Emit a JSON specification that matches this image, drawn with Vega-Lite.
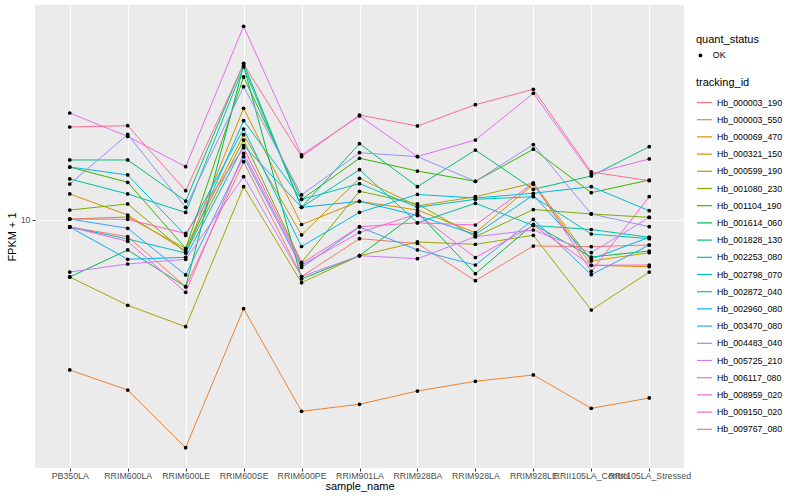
{
"$schema": "https://vega.github.io/schema/vega-lite/v6.json",
"width": 649, "height": 463,
"autosize": "none",
"padding": {"left": 35, "top": 5, "right": 116, "bottom": 32},
"background": "white",
"config": {
  "view": {"fill": "#EBEBEB", "stroke": null},
  "font": "Liberation Sans",
  "axis": {"domain": false, "grid": true, "gridColor": "white", "gridWidth": 1.1, "tickColor": "#333333", "tickSize": 3, "labelColor": "#4D4D4D", "labelFontSize": 8.8, "titleFontSize": 11, "titleColor": "black", "titleFontWeight": "normal", "labelPadding": 2},
  "legend": {"titleFontSize": 11, "titleFontWeight": "normal", "titleColor": "black", "labelFontSize": 8.8, "labelColor": "black", "orient": "none"}
},
"data": {"values": [
{"t":"Hb_000003_190","s":"PB350LA","v":9.376,"q":"OK"},{"t":"Hb_000003_190","s":"RRIM600LA","v":8.575,"q":"OK"},{"t":"Hb_000003_190","s":"RRIM600LE","v":5.41,"q":"OK"},{"t":"Hb_000003_190","s":"RRIM600SE","v":17.11,"q":"OK"},{"t":"Hb_000003_190","s":"RRIM600PE","v":5.943,"q":"OK"},{"t":"Hb_000003_190","s":"RRIM901LA","v":8.419,"q":"OK"},{"t":"Hb_000003_190","s":"RRIM928BA","v":8.054,"q":"OK"},{"t":"Hb_000003_190","s":"RRIM928LA","v":5.718,"q":"OK"},{"t":"Hb_000003_190","s":"RRIM928LE","v":7.87,"q":"OK"},{"t":"Hb_000003_190","s":"RRII105LA_Control","v":7.82,"q":"OK"},{"t":"Hb_000003_190","s":"RRII105LA_Stressed","v":7.943,"q":"OK"},
{"t":"Hb_000003_550","s":"PB350LA","v":2.512,"q":"OK"},{"t":"Hb_000003_550","s":"RRIM600LA","v":2.089,"q":"OK"},{"t":"Hb_000003_550","s":"RRIM600LE","v":1.228,"q":"OK"},{"t":"Hb_000003_550","s":"RRIM600SE","v":4.417,"q":"OK"},{"t":"Hb_000003_550","s":"RRIM600PE","v":1.717,"q":"OK"},{"t":"Hb_000003_550","s":"RRIM901LA","v":1.832,"q":"OK"},{"t":"Hb_000003_550","s":"RRIM928BA","v":2.07,"q":"OK"},{"t":"Hb_000003_550","s":"RRIM928LA","v":2.264,"q":"OK"},{"t":"Hb_000003_550","s":"RRIM928LE","v":2.399,"q":"OK"},{"t":"Hb_000003_550","s":"RRII105LA_Control","v":1.765,"q":"OK"},{"t":"Hb_000003_550","s":"RRII105LA_Stressed","v":1.941,"q":"OK"},
{"t":"Hb_000069_470","s":"PB350LA","v":12.71,"q":"OK"},{"t":"Hb_000069_470","s":"RRIM600LA","v":10.47,"q":"OK"},{"t":"Hb_000069_470","s":"RRIM600LE","v":7.516,"q":"OK"},{"t":"Hb_000069_470","s":"RRIM600SE","v":27.98,"q":"OK"},{"t":"Hb_000069_470","s":"RRIM600PE","v":9.594,"q":"OK"},{"t":"Hb_000069_470","s":"RRIM901LA","v":11.88,"q":"OK"},{"t":"Hb_000069_470","s":"RRIM928BA","v":10.96,"q":"OK"},{"t":"Hb_000069_470","s":"RRIM928LA","v":8.897,"q":"OK"},{"t":"Hb_000069_470","s":"RRIM928LE","v":13.89,"q":"OK"},{"t":"Hb_000069_470","s":"RRII105LA_Control","v":6.589,"q":"OK"},{"t":"Hb_000069_470","s":"RRII105LA_Stressed","v":6.504,"q":"OK"},
{"t":"Hb_000321_150","s":"PB350LA","v":10.09,"q":"OK"},{"t":"Hb_000321_150","s":"RRIM600LA","v":10.28,"q":"OK"},{"t":"Hb_000321_150","s":"RRIM600LE","v":7.691,"q":"OK"},{"t":"Hb_000321_150","s":"RRIM600SE","v":21.94,"q":"OK"},{"t":"Hb_000321_150","s":"RRIM600PE","v":8.71,"q":"OK"},{"t":"Hb_000321_150","s":"RRIM901LA","v":14.68,"q":"OK"},{"t":"Hb_000321_150","s":"RRIM928BA","v":11.38,"q":"OK"},{"t":"Hb_000321_150","s":"RRIM928LA","v":12.39,"q":"OK"},{"t":"Hb_000321_150","s":"RRIM928LE","v":14.06,"q":"OK"},{"t":"Hb_000321_150","s":"RRII105LA_Control","v":6.855,"q":"OK"},{"t":"Hb_000321_150","s":"RRII105LA_Stressed","v":7.399,"q":"OK"},
{"t":"Hb_000599_190","s":"PB350LA","v":5.916,"q":"OK"},{"t":"Hb_000599_190","s":"RRIM600LA","v":4.558,"q":"OK"},{"t":"Hb_000599_190","s":"RRIM600LE","v":3.742,"q":"OK"},{"t":"Hb_000599_190","s":"RRIM600SE","v":13.59,"q":"OK"},{"t":"Hb_000599_190","s":"RRIM600PE","v":5.614,"q":"OK"},{"t":"Hb_000599_190","s":"RRIM901LA","v":7.198,"q":"OK"},{"t":"Hb_000599_190","s":"RRIM928BA","v":8.166,"q":"OK"},{"t":"Hb_000599_190","s":"RRIM928LA","v":7.994,"q":"OK"},{"t":"Hb_000599_190","s":"RRIM928LE","v":8.686,"q":"OK"},{"t":"Hb_000599_190","s":"RRII105LA_Control","v":4.365,"q":"OK"},{"t":"Hb_000599_190","s":"RRII105LA_Stressed","v":6.194,"q":"OK"},
{"t":"Hb_001080_230","s":"PB350LA","v":10.96,"q":"OK"},{"t":"Hb_001080_230","s":"RRIM600LA","v":11.59,"q":"OK"},{"t":"Hb_001080_230","s":"RRIM600LE","v":7.399,"q":"OK"},{"t":"Hb_001080_230","s":"RRIM600SE","v":20.89,"q":"OK"},{"t":"Hb_001080_230","s":"RRIM600PE","v":6.761,"q":"OK"},{"t":"Hb_001080_230","s":"RRIM901LA","v":13.03,"q":"OK"},{"t":"Hb_001080_230","s":"RRIM928BA","v":11.59,"q":"OK"},{"t":"Hb_001080_230","s":"RRIM928LA","v":8.575,"q":"OK"},{"t":"Hb_001080_230","s":"RRIM928LE","v":11.01,"q":"OK"},{"t":"Hb_001080_230","s":"RRII105LA_Control","v":10.57,"q":"OK"},{"t":"Hb_001080_230","s":"RRII105LA_Stressed","v":10.25,"q":"OK"},
{"t":"Hb_001104_190","s":"PB350LA","v":16.29,"q":"OK"},{"t":"Hb_001104_190","s":"RRIM600LA","v":14.15,"q":"OK"},{"t":"Hb_001104_190","s":"RRIM600LE","v":7.691,"q":"OK"},{"t":"Hb_001104_190","s":"RRIM600SE","v":37.33,"q":"OK"},{"t":"Hb_001104_190","s":"RRIM600PE","v":12.08,"q":"OK"},{"t":"Hb_001104_190","s":"RRIM901LA","v":17.66,"q":"OK"},{"t":"Hb_001104_190","s":"RRIM928BA","v":15.7,"q":"OK"},{"t":"Hb_001104_190","s":"RRIM928LA","v":14.28,"q":"OK"},{"t":"Hb_001104_190","s":"RRIM928LE","v":19.19,"q":"OK"},{"t":"Hb_001104_190","s":"RRII105LA_Control","v":12.86,"q":"OK"},{"t":"Hb_001104_190","s":"RRII105LA_Stressed","v":14.45,"q":"OK"},
{"t":"Hb_001614_060","s":"PB350LA","v":5.916,"q":"OK"},{"t":"Hb_001614_060","s":"RRIM600LA","v":7.586,"q":"OK"},{"t":"Hb_001614_060","s":"RRIM600LE","v":5.41,"q":"OK"},{"t":"Hb_001614_060","s":"RRIM600SE","v":41.42,"q":"OK"},{"t":"Hb_001614_060","s":"RRIM600PE","v":5.808,"q":"OK"},{"t":"Hb_001614_060","s":"RRIM901LA","v":7.198,"q":"OK"},{"t":"Hb_001614_060","s":"RRIM928BA","v":10.73,"q":"OK"},{"t":"Hb_001614_060","s":"RRIM928LA","v":6.098,"q":"OK"},{"t":"Hb_001614_060","s":"RRIM928LE","v":9.612,"q":"OK"},{"t":"Hb_001614_060","s":"RRII105LA_Control","v":7.112,"q":"OK"},{"t":"Hb_001614_060","s":"RRII105LA_Stressed","v":7.516,"q":"OK"},
{"t":"Hb_001828_130","s":"PB350LA","v":17.38,"q":"OK"},{"t":"Hb_001828_130","s":"RRIM600LA","v":17.38,"q":"OK"},{"t":"Hb_001828_130","s":"RRIM600LE","v":11.91,"q":"OK"},{"t":"Hb_001828_130","s":"RRIM600SE","v":42.34,"q":"OK"},{"t":"Hb_001828_130","s":"RRIM600PE","v":11.24,"q":"OK"},{"t":"Hb_001828_130","s":"RRIM901LA","v":20.2,"q":"OK"},{"t":"Hb_001828_130","s":"RRIM928BA","v":13.59,"q":"OK"},{"t":"Hb_001828_130","s":"RRIM928LA","v":19.05,"q":"OK"},{"t":"Hb_001828_130","s":"RRIM928LE","v":13.27,"q":"OK"},{"t":"Hb_001828_130","s":"RRII105LA_Control","v":15.0,"q":"OK"},{"t":"Hb_001828_130","s":"RRII105LA_Stressed","v":19.64,"q":"OK"},
{"t":"Hb_002253_080","s":"PB350LA","v":14.59,"q":"OK"},{"t":"Hb_002253_080","s":"RRIM600LA","v":12.71,"q":"OK"},{"t":"Hb_002253_080","s":"RRIM600LE","v":10.72,"q":"OK"},{"t":"Hb_002253_080","s":"RRIM600SE","v":40.93,"q":"OK"},{"t":"Hb_002253_080","s":"RRIM600PE","v":11.24,"q":"OK"},{"t":"Hb_002253_080","s":"RRIM901LA","v":15.89,"q":"OK"},{"t":"Hb_002253_080","s":"RRIM928BA","v":9.745,"q":"OK"},{"t":"Hb_002253_080","s":"RRIM928LA","v":11.66,"q":"OK"},{"t":"Hb_002253_080","s":"RRIM928LE","v":9.506,"q":"OK"},{"t":"Hb_002253_080","s":"RRII105LA_Control","v":9.162,"q":"OK"},{"t":"Hb_002253_080","s":"RRII105LA_Stressed","v":8.528,"q":"OK"},
{"t":"Hb_002798_070","s":"PB350LA","v":9.376,"q":"OK"},{"t":"Hb_002798_070","s":"RRIM600LA","v":8.395,"q":"OK"},{"t":"Hb_002798_070","s":"RRIM600LE","v":7.379,"q":"OK"},{"t":"Hb_002798_070","s":"RRIM600SE","v":24.96,"q":"OK"},{"t":"Hb_002798_070","s":"RRIM600PE","v":12.08,"q":"OK"},{"t":"Hb_002798_070","s":"RRIM901LA","v":13.97,"q":"OK"},{"t":"Hb_002798_070","s":"RRIM928BA","v":11.24,"q":"OK"},{"t":"Hb_002798_070","s":"RRIM928LA","v":12.1,"q":"OK"},{"t":"Hb_002798_070","s":"RRIM928LE","v":12.39,"q":"OK"},{"t":"Hb_002798_070","s":"RRII105LA_Control","v":8.79,"q":"OK"},{"t":"Hb_002798_070","s":"RRII105LA_Stressed","v":8.419,"q":"OK"},
{"t":"Hb_002872_040","s":"PB350LA","v":16.29,"q":"OK"},{"t":"Hb_002872_040","s":"RRIM600LA","v":15.14,"q":"OK"},{"t":"Hb_002872_040","s":"RRIM600LE","v":8.67,"q":"OK"},{"t":"Hb_002872_040","s":"RRIM600SE","v":23.12,"q":"OK"},{"t":"Hb_002872_040","s":"RRIM600PE","v":7.834,"q":"OK"},{"t":"Hb_002872_040","s":"RRIM901LA","v":10.73,"q":"OK"},{"t":"Hb_002872_040","s":"RRIM928BA","v":12.65,"q":"OK"},{"t":"Hb_002872_040","s":"RRIM928LA","v":12.25,"q":"OK"},{"t":"Hb_002872_040","s":"RRIM928LE","v":12.79,"q":"OK"},{"t":"Hb_002872_040","s":"RRII105LA_Control","v":13.59,"q":"OK"},{"t":"Hb_002872_040","s":"RRII105LA_Stressed","v":10.89,"q":"OK"},
{"t":"Hb_002960_080","s":"PB350LA","v":9.376,"q":"OK"},{"t":"Hb_002960_080","s":"RRIM600LA","v":6.963,"q":"OK"},{"t":"Hb_002960_080","s":"RRIM600LE","v":7.092,"q":"OK"},{"t":"Hb_002960_080","s":"RRIM600SE","v":19.82,"q":"OK"},{"t":"Hb_002960_080","s":"RRIM600PE","v":11.24,"q":"OK"},{"t":"Hb_002960_080","s":"RRIM901LA","v":11.88,"q":"OK"},{"t":"Hb_002960_080","s":"RRIM928BA","v":10.42,"q":"OK"},{"t":"Hb_002960_080","s":"RRIM928LA","v":8.75,"q":"OK"},{"t":"Hb_002960_080","s":"RRIM928LE","v":12.59,"q":"OK"},{"t":"Hb_002960_080","s":"RRII105LA_Control","v":6.982,"q":"OK"},{"t":"Hb_002960_080","s":"RRII105LA_Stressed","v":8.528,"q":"OK"},
{"t":"Hb_003470_080","s":"PB350LA","v":10.09,"q":"OK"},{"t":"Hb_003470_080","s":"RRIM600LA","v":9.265,"q":"OK"},{"t":"Hb_003470_080","s":"RRIM600LE","v":6.026,"q":"OK"},{"t":"Hb_003470_080","s":"RRIM600SE","v":17.92,"q":"OK"},{"t":"Hb_003470_080","s":"RRIM600PE","v":6.457,"q":"OK"},{"t":"Hb_003470_080","s":"RRIM901LA","v":9.376,"q":"OK"},{"t":"Hb_003470_080","s":"RRIM928BA","v":7.586,"q":"OK"},{"t":"Hb_003470_080","s":"RRIM928LA","v":6.607,"q":"OK"},{"t":"Hb_003470_080","s":"RRIM928LE","v":10.05,"q":"OK"},{"t":"Hb_003470_080","s":"RRII105LA_Control","v":6.042,"q":"OK"},{"t":"Hb_003470_080","s":"RRII105LA_Stressed","v":7.943,"q":"OK"},
{"t":"Hb_004483_040","s":"PB350LA","v":13.93,"q":"OK"},{"t":"Hb_004483_040","s":"RRIM600LA","v":21.98,"q":"OK"},{"t":"Hb_004483_040","s":"RRIM600LE","v":11.24,"q":"OK"},{"t":"Hb_004483_040","s":"RRIM600SE","v":34.14,"q":"OK"},{"t":"Hb_004483_040","s":"RRIM600PE","v":12.59,"q":"OK"},{"t":"Hb_004483_040","s":"RRIM901LA","v":18.58,"q":"OK"},{"t":"Hb_004483_040","s":"RRIM928BA","v":17.92,"q":"OK"},{"t":"Hb_004483_040","s":"RRIM928LA","v":14.28,"q":"OK"},{"t":"Hb_004483_040","s":"RRIM928LE","v":20.04,"q":"OK"},{"t":"Hb_004483_040","s":"RRII105LA_Control","v":10.57,"q":"OK"},{"t":"Hb_004483_040","s":"RRII105LA_Stressed","v":9.401,"q":"OK"},
{"t":"Hb_005725_210","s":"PB350LA","v":6.194,"q":"OK"},{"t":"Hb_005725_210","s":"RRIM600LA","v":6.668,"q":"OK"},{"t":"Hb_005725_210","s":"RRIM600LE","v":6.963,"q":"OK"},{"t":"Hb_005725_210","s":"RRIM600SE","v":14.9,"q":"OK"},{"t":"Hb_005725_210","s":"RRIM600PE","v":5.943,"q":"OK"},{"t":"Hb_005725_210","s":"RRIM901LA","v":7.198,"q":"OK"},{"t":"Hb_005725_210","s":"RRIM928BA","v":7.001,"q":"OK"},{"t":"Hb_005725_210","s":"RRIM928LA","v":8.575,"q":"OK"},{"t":"Hb_005725_210","s":"RRIM928LE","v":9.12,"q":"OK"},{"t":"Hb_005725_210","s":"RRII105LA_Control","v":7.399,"q":"OK"},{"t":"Hb_005725_210","s":"RRII105LA_Stressed","v":10.25,"q":"OK"},
{"t":"Hb_006117_080","s":"PB350LA","v":26.79,"q":"OK"},{"t":"Hb_006117_080","s":"RRIM600LA","v":21.58,"q":"OK"},{"t":"Hb_006117_080","s":"RRIM600LE","v":16.34,"q":"OK"},{"t":"Hb_006117_080","s":"RRIM600SE","v":59.55,"q":"OK"},{"t":"Hb_006117_080","s":"RRIM600PE","v":18.2,"q":"OK"},{"t":"Hb_006117_080","s":"RRIM901LA","v":26.06,"q":"OK"},{"t":"Hb_006117_080","s":"RRIM928BA","v":17.95,"q":"OK"},{"t":"Hb_006117_080","s":"RRIM928LA","v":20.89,"q":"OK"},{"t":"Hb_006117_080","s":"RRIM928LE","v":32.13,"q":"OK"},{"t":"Hb_006117_080","s":"RRII105LA_Control","v":15.28,"q":"OK"},{"t":"Hb_006117_080","s":"RRII105LA_Stressed","v":17.54,"q":"OK"},
{"t":"Hb_008959_020","s":"PB350LA","v":9.376,"q":"OK"},{"t":"Hb_008959_020","s":"RRIM600LA","v":8.219,"q":"OK"},{"t":"Hb_008959_020","s":"RRIM600LE","v":5.138,"q":"OK"},{"t":"Hb_008959_020","s":"RRIM600SE","v":18.48,"q":"OK"},{"t":"Hb_008959_020","s":"RRIM600PE","v":6.589,"q":"OK"},{"t":"Hb_008959_020","s":"RRIM901LA","v":8.913,"q":"OK"},{"t":"Hb_008959_020","s":"RRIM928BA","v":10.57,"q":"OK"},{"t":"Hb_008959_020","s":"RRIM928LA","v":7.079,"q":"OK"},{"t":"Hb_008959_020","s":"RRIM928LE","v":9.506,"q":"OK"},{"t":"Hb_008959_020","s":"RRII105LA_Control","v":6.589,"q":"OK"},{"t":"Hb_008959_020","s":"RRII105LA_Stressed","v":6.607,"q":"OK"},
{"t":"Hb_009150_020","s":"PB350LA","v":10.09,"q":"OK"},{"t":"Hb_009150_020","s":"RRIM600LA","v":10.06,"q":"OK"},{"t":"Hb_009150_020","s":"RRIM600LE","v":8.831,"q":"OK"},{"t":"Hb_009150_020","s":"RRIM600SE","v":19.46,"q":"OK"},{"t":"Hb_009150_020","s":"RRIM600PE","v":6.699,"q":"OK"},{"t":"Hb_009150_020","s":"RRIM901LA","v":9.401,"q":"OK"},{"t":"Hb_009150_020","s":"RRIM928BA","v":9.745,"q":"OK"},{"t":"Hb_009150_020","s":"RRIM928LA","v":9.55,"q":"OK"},{"t":"Hb_009150_020","s":"RRIM928LE","v":14.06,"q":"OK"},{"t":"Hb_009150_020","s":"RRII105LA_Control","v":6.235,"q":"OK"},{"t":"Hb_009150_020","s":"RRII105LA_Stressed","v":12.39,"q":"OK"},
{"t":"Hb_009767_080","s":"PB350LA","v":23.55,"q":"OK"},{"t":"Hb_009767_080","s":"RRIM600LA","v":23.84,"q":"OK"},{"t":"Hb_009767_080","s":"RRIM600LE","v":13.1,"q":"OK"},{"t":"Hb_009767_080","s":"RRIM600SE","v":42.07,"q":"OK"},{"t":"Hb_009767_080","s":"RRIM600PE","v":17.92,"q":"OK"},{"t":"Hb_009767_080","s":"RRIM901LA","v":26.3,"q":"OK"},{"t":"Hb_009767_080","s":"RRIM928BA","v":23.77,"q":"OK"},{"t":"Hb_009767_080","s":"RRIM928LA","v":28.92,"q":"OK"},{"t":"Hb_009767_080","s":"RRIM928LE","v":33.33,"q":"OK"},{"t":"Hb_009767_080","s":"RRII105LA_Control","v":15.56,"q":"OK"},{"t":"Hb_009767_080","s":"RRII105LA_Stressed","v":14.36,"q":"OK"}
]},
"encoding": {
  "x": {"field": "s", "type": "nominal", "title": "sample_name",
        "scale": {"type": "point", "padding": 0.6, "domain": ["PB350LA","RRIM600LA","RRIM600LE","RRIM600SE","RRIM600PE","RRIM901LA","RRIM928BA","RRIM928LA","RRIM928LE","RRII105LA_Control","RRII105LA_Stressed"]},
        "axis": {"labelAngle": 0, "labelOverlap": false, "labelPadding": 0, "titlePadding": 1}},
  "y": {"field": "v", "type": "quantitative", "title": "FPKM + 1",
        "scale": {"type": "log", "domain": [1.0186, 72.44], "nice": false, "zero": false},
        "axis": {"values": [10], "titlePadding": 3}}
},
"layer": [
  {"mark": {"type": "line", "strokeWidth": 1},
   "encoding": {
     "color": {"field": "t", "type": "nominal", "title": "tracking_id",
       "scale": {"domain": ["Hb_000003_190","Hb_000003_550","Hb_000069_470","Hb_000321_150","Hb_000599_190","Hb_001080_230","Hb_001104_190","Hb_001614_060","Hb_001828_130","Hb_002253_080","Hb_002798_070","Hb_002872_040","Hb_002960_080","Hb_003470_080","Hb_004483_040","Hb_005725_210","Hb_006117_080","Hb_008959_020","Hb_009150_020","Hb_009767_080"],
                 "range": ["#F8766D","#EA8331","#D89000","#C09B00","#A3A500","#7CAE00","#39B600","#00BB4E","#00BF7D","#00C1A3","#00BFC4","#00BAE0","#00B0F6","#35A2FF","#9590FF","#C77CFF","#E76BF3","#FA62DB","#FF62BC","#FF6C91"]},
       "legend": {"orient": "none", "legendX": 661, "legendY": 72, "symbolType": "stroke", "symbolStrokeWidth": 1.2, "symbolSize": 225, "rowPadding": 3.2, "labelOffset": 4, "titlePadding": 6}},
     "order": {"value": null}
   }},
  {"mark": {"type": "point", "filled": true, "size": 14, "color": "black", "opacity": 1},
   "encoding": {
     "shape": {"field": "q", "type": "nominal", "title": "quant_status",
       "scale": {"range": ["circle"]},
       "legend": {"orient": "none", "legendX": 661, "legendY": 29, "symbolFillColor": "black", "symbolStrokeColor": "black", "symbolSize": 14, "labelOffset": 8, "titlePadding": 6}}
   }}
]
}
